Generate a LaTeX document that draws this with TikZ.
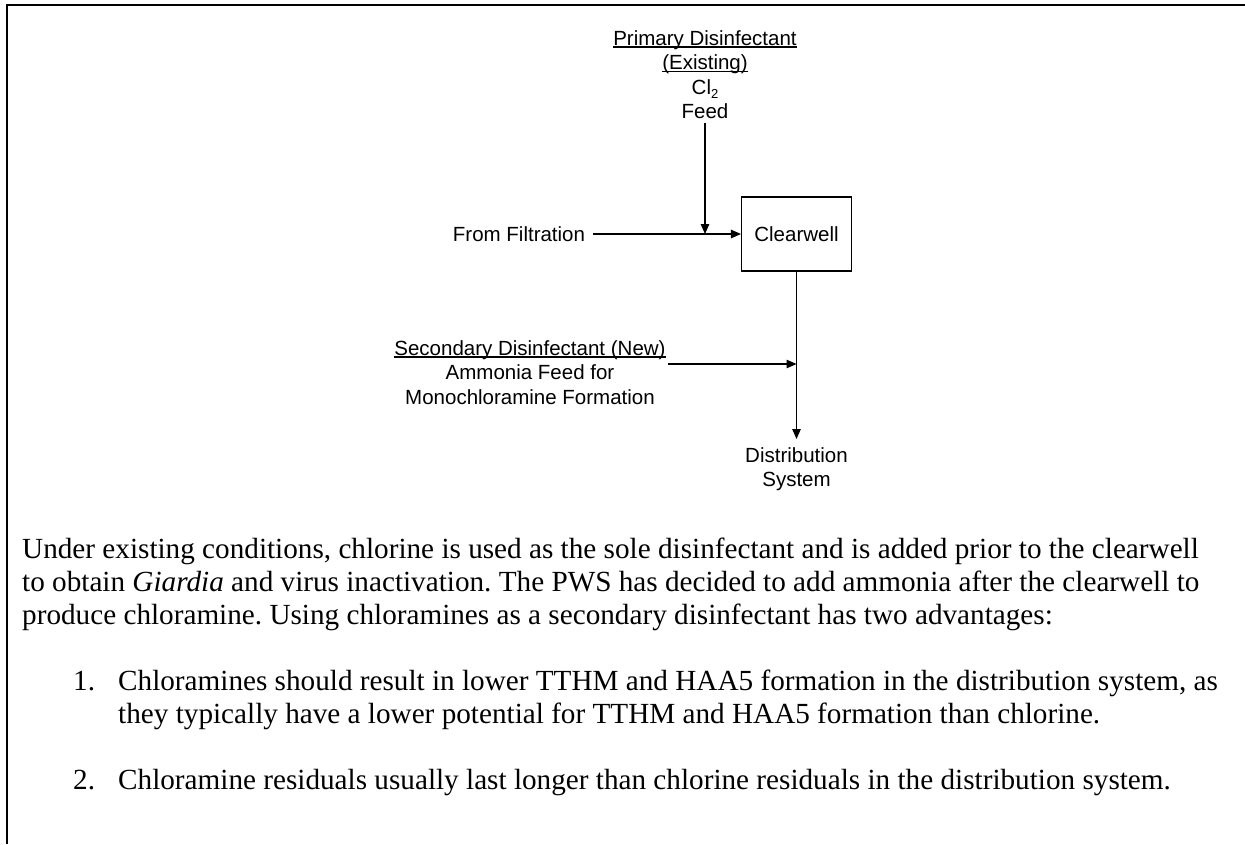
\documentclass[tikz,border=0pt]{standalone}
\usepackage{fontspec}
\setmainfont{Liberation Serif}
\newfontfamily\arialf{Liberation Sans}
\usetikzlibrary{arrows.meta}
\newcommand\myul[1]{\setbox0\hbox{#1}\rlap{\rule[-2.6pt]{\wd0}{1.2pt}}\box0}
\frenchspacing
\begin{document}
\begin{tikzpicture}[x=1pt,y=-1pt,
  lab/.style={font=\arialf\fontsize{20.5}{24.6}\selectfont, inner sep=0pt, align=center},
  body/.style={font=\fontsize{29.2}{33}\selectfont, inner sep=0pt, anchor=base west},
  arr/.style={-{Triangle[length=10pt,width=8.5pt]}, line width=1.1pt},
  boxst/.style={draw, line width=1.1pt, minimum width=110pt, minimum height=74pt, inner sep=0pt,
    font=\arialf\fontsize{20.5}{24.6}\selectfont}]
\useasboundingbox (0,0) rectangle (1245,844);
\draw[line width=2pt] (7,844) -- (7,5) -- (1245,5);

% diagram
\node[lab, anchor=north] (prim) at (705,30)
  {\myul{Primary Disinfectant}\\\myul{(Existing)}\\Cl\raisebox{-4pt}{\fontsize{13}{13}\selectfont 2}\\Feed};
\node[lab] (from) at (519,234) {From Filtration};
\node[boxst] (cw) at (796.5,234) {Clearwell};
\coordinate (j1) at (prim.south |- cw.west);
\draw[arr] ([xshift=8pt]from.east) -- (cw.west);
\draw[arr] ([yshift=-4pt]prim.south) -- (j1);

\node[lab, anchor=north] (dist) at (796.5,447) {Distribution\\System};
\draw[arr, shorten >=8pt] (cw.south) -- (dist.north);

\node[lab, anchor=north] (sec) at (530,340)
  {\myul{Secondary Disinfectant (New)}\\Ammonia Feed for\\Monochloramine Formation};
\coordinate (j2) at (796.5,364);
\draw[arr] ([xshift=2pt]sec.east |- j2) -- (j2);

% body text
\node[body] (t1) at (22,558) {Under existing conditions, chlorine is used as the sole disinfectant and is added prior to the clearwell};
\node[body] (t2) at (22,591) {to obtain \textit{Giardia} and virus inactivation. The PWS has decided to add ammonia after the clearwell to};
\node[body] (t3) at (22,624) {produce chloramine. Using chloramines as a secondary disinfectant has two advantages:};
\node[body] (n1) at (73,690) {1.};
\node[body] (i1a) at (118,690) {Chloramines should result in lower TTHM and HAA5 formation in the distribution system, as};
\node[body] (i1b) at (118,723) {they typically have a lower potential for TTHM and HAA5 formation than chlorine.};
\node[body] (n2) at (73,789) {2.};
\node[body] (i2) at (118,789) {Chloramine residuals usually last longer than chlorine residuals in the distribution system.};
\end{tikzpicture}
\end{document}
